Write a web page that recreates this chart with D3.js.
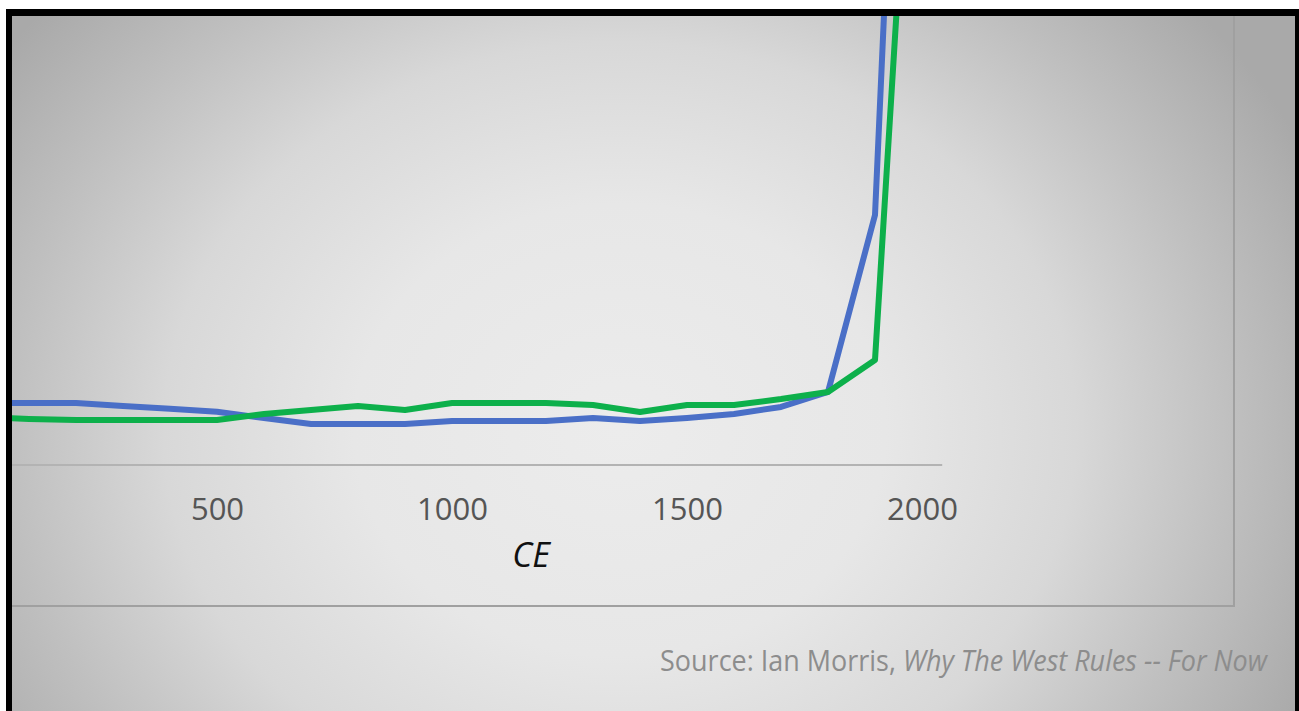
<!DOCTYPE html>
<html>
<head>
<meta charset="utf-8">
<script src="https://cdn.jsdelivr.net/npm/d3@7"></script>
<style>
  html, body { margin: 0; padding: 0; background: #ffffff; overflow: hidden; }
  svg { display: block; }
</style>
</head>
<body>
<svg id="chart" width="1299" height="711"></svg>
<script>
// ---- data ----
const years = [0, 100, 200, 300, 400, 500, 600, 700, 800, 900, 1000, 1100, 1200, 1300, 1400, 1500, 1600, 1700, 1800, 1900, 2000];
const westValues = [43, 43, 43, 41, 39, 37, 32.6, 28.5, 28.5, 28.5, 30.5, 30.5, 30.5, 32.6, 30.5, 32.6, 35.4, 40.3, 50.7, 173.6, 899];
const eastValues = [33.3, 32, 31.3, 31.3, 31.3, 31.3, 35.4, 38.2, 41, 38.2, 43, 43, 43, 41.7, 36.8, 41.7, 41.7, 45.8, 50.7, 72.9, 600];
const tickYears = [500, 1000, 1500, 2000];
const axisTitle = "CE";
const sourcePlain = "Source: Ian Morris, ";
const sourceItalic = "Why The West Rules -- For Now";

// ---- layout ----
const W = 1299, H = 711;
const svg = d3.select("#chart");
const defs = svg.append("defs");

const frame = { left: 12, top: 16, right: 1295 };

const x = d3.scaleLinear().domain([0, 2000]).range([-18, 922]);
const y = d3.scaleLinear().domain([0, 1000]).range([465, 465 - 1440]);
const axisEndYear = 2043;

// background
svg.append("rect").attr("x", 0).attr("y", 0).attr("width", W).attr("height", H).attr("fill", "#ffffff");
svg.append("rect").attr("x", 6).attr("y", 9).attr("width", W - 6).attr("height", H - 9).attr("fill", "#000000");

const grad = defs.append("radialGradient")
  .attr("id", "bg")
  .attr("gradientUnits", "userSpaceOnUse")
  .attr("cx", 620).attr("cy", 430).attr("r", 760)
  .attr("gradientTransform", "translate(620,430) scale(1,0.85) translate(-620,-430)");
[[0, "#ececec"], [0.35, "#e7e7e7"], [0.6, "#d8d8d8"], [0.8, "#c0c0c0"], [1, "#a9a9a9"]]
  .forEach(([o, c]) => grad.append("stop").attr("offset", o).attr("stop-color", c));

svg.append("rect")
  .attr("x", frame.left).attr("y", frame.top)
  .attr("width", frame.right - frame.left).attr("height", H - frame.top)
  .attr("fill", "url(#bg)");

// chart frame (right and bottom edges visible)
const plotFrameRight = 1234, plotFrameBottom = 606;
svg.append("path")
  .attr("d", `M${frame.left},${plotFrameBottom} H${plotFrameRight} V${frame.top}`)
  .attr("fill", "none").attr("stroke", "#a0a0a0").attr("stroke-width", 2);

// clip
defs.append("clipPath").attr("id", "clip")
  .append("rect").attr("x", frame.left).attr("y", frame.top)
  .attr("width", plotFrameRight - frame.left).attr("height", plotFrameBottom - frame.top);

const g = svg.append("g").attr("clip-path", "url(#clip)");

// x axis line
g.append("line")
  .attr("x1", frame.left).attr("x2", x(axisEndYear))
  .attr("y1", y(0)).attr("y2", y(0))
  .attr("stroke", "#b3b3b3").attr("stroke-width", 2);

const line = d3.line().x((d, i) => x(years[i])).y(d => y(d)).curve(d3.curveLinear);

g.append("path").datum(westValues)
  .attr("d", line).attr("fill", "none")
  .attr("stroke", "#4A6FC7").attr("stroke-width", 6)
  .attr("stroke-linejoin", "round").attr("stroke-linecap", "round");

g.append("path").datum(eastValues)
  .attr("d", line).attr("fill", "none")
  .attr("stroke", "#0DB04B").attr("stroke-width", 6)
  .attr("stroke-linejoin", "round").attr("stroke-linecap", "round");

// tick labels via d3 axis
const axis = d3.axisBottom(x).tickValues(tickYears).tickSize(0).tickFormat(d3.format("d"));
const ax = svg.append("g").attr("transform", `translate(0,${y(0)})`).call(axis);
ax.select(".domain").remove();
ax.selectAll("text")
  .attr("y", 55).attr("dy", 0)
  .attr("fill", "#555555")
  .style("font-family", "'Open Sans', sans-serif")
  .style("font-size", "31px");

// axis title
svg.append("text")
  .attr("x", x(1000) + 79).attr("y", 567)
  .attr("text-anchor", "middle")
  .attr("fill", "#111111")
  .style("font-family", "'Open Sans', sans-serif")
  .style("font-style", "italic")
  .style("font-size", "34px")
  .text(axisTitle);

// source line (condensed horizontally to mimic the narrow original face)
const srcG = svg.append("g");
const src = srcG.append("text")
  .attr("x", 0).attr("y", 0)
  .attr("text-anchor", "end")
  .attr("fill", "#8d8d8d")
  .style("font-family", "'Open Sans', sans-serif")
  .style("font-size", "30px");
src.append("tspan").text(sourcePlain);
src.append("tspan").style("font-style", "italic").text(sourceItalic);
const srcWidth = src.node().getComputedTextLength();
const targetWidth = 607;
srcG.attr("transform", `translate(1267,671) scale(${targetWidth / srcWidth},1)`);
</script>
</body>
</html>
